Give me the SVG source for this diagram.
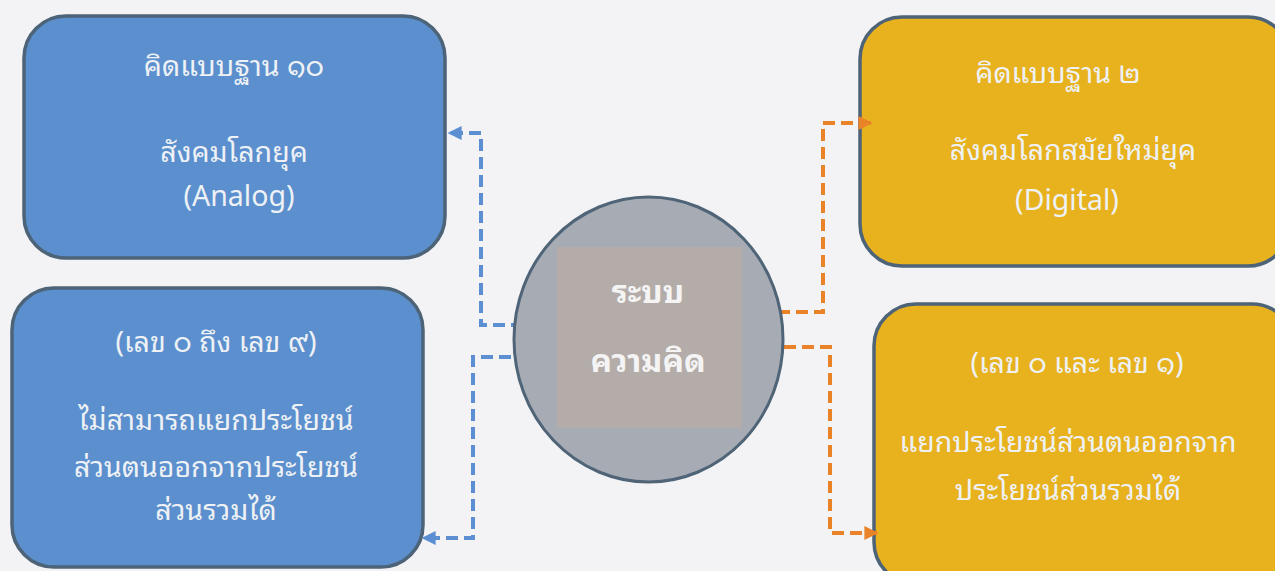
<svg xmlns="http://www.w3.org/2000/svg" width="1275" height="571" viewBox="0 0 1275 571">
<defs>
<style>
.bx{stroke:#4d6378;stroke-width:3.5}
.blue{fill:#5b8fcd}
.gold{fill:#e8b11e}
.t{font-family:"Noto Sans Thai Looped","Noto Sans Thai","Noto Sans","Liberation Sans",sans-serif;font-size:28.5px;fill:#eef1f5;text-anchor:middle}
.tc{font-family:"Noto Sans Thai Looped","Noto Sans Thai","Noto Sans","Liberation Sans",sans-serif;font-size:32px;font-weight:bold;fill:#f4f4f4;text-anchor:middle}
.cb{fill:none;stroke:#5b8fd2;stroke-width:4;stroke-dasharray:12 6}
.co{fill:none;stroke:#ea8228;stroke-width:4;stroke-dasharray:12 6}
</style>
<marker id="ab" viewBox="0 0 10 10" refX="9" refY="5" markerWidth="3.5" markerHeight="3.5" orient="auto" markerUnits="strokeWidth"><path d="M0,0L10,5L0,10z" fill="#5b8fd2"/></marker>
<marker id="ao" viewBox="0 0 10 10" refX="9" refY="5" markerWidth="3.5" markerHeight="3.5" orient="auto" markerUnits="strokeWidth"><path d="M0,0L10,5L0,10z" fill="#ea8228"/></marker>
</defs>
<rect width="1275" height="571" fill="#f3f3f5"/>
<g id="box1">
<rect class="bx blue" x="24" y="16" width="421" height="242" rx="42"/>
<text class="t" x="234" y="76">คิดแบบฐาน ๑๐</text>
<text class="t" x="234" y="162">สังคมโลกยุค</text>
<text class="t" x="239" y="206">(Analog)</text>
</g>
<g id="box2">
<rect class="bx blue" x="12" y="288" width="411" height="279" rx="42"/>
<text class="t" x="216" y="352">(เลข ๐ ถึง เลข ๙)</text>
<text class="t" x="216" y="430">ไม่สามารถแยกประโยชน์</text>
<text class="t" x="216" y="477">ส่วนตนออกจากประโยชน์</text>
<text class="t" x="216" y="520">ส่วนรวมได้</text>
</g>
<g id="box3">
<rect class="bx gold" x="860" y="17" width="430" height="249" rx="42"/>
<text class="t" x="1058" y="83">คิดแบบฐาน ๒</text>
<text class="t" x="1073" y="160">สังคมโลกสมัยใหม่ยุค</text>
<text class="t" x="1067" y="210">(Digital)</text>
</g>
<g id="box4">
<rect class="bx gold" x="874" y="304" width="420" height="280" rx="42"/>
<text class="t" x="1077" y="373">(เลข ๐ และ เลข ๑)</text>
<text class="t" x="1068" y="452">แยกประโยชน์ส่วนตนออกจาก</text>
<text class="t" x="1068" y="500">ประโยชน์ส่วนรวมได้</text>
</g>
<g id="connectors">
<path class="cb" d="M523,325H481V133H449" marker-end="url(#ab)"/>
<path class="cb" d="M511,357H473V538H423" marker-end="url(#ab)"/>
<path class="co" d="M778,312H823V123H871" marker-end="url(#ao)"/>
<path class="co" d="M784,347H830V533H877" marker-end="url(#ao)"/>
</g>
<g id="center">
<ellipse cx="648.5" cy="339.5" rx="134.5" ry="142.5" fill="#a6abb4" stroke="#4f6477" stroke-width="3"/>
<rect x="557" y="247" width="185" height="181" fill="#b4aca8"/>
<text class="tc" x="648" y="303">ระบบ</text>
<text class="tc" x="648" y="372">ความคิด</text>
</g>
</svg>
